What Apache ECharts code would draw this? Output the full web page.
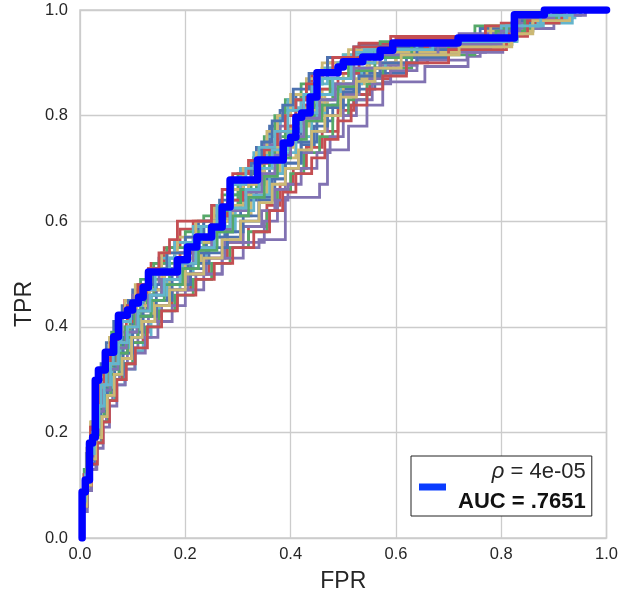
<!DOCTYPE html>
<html>
<head>
<meta charset="utf-8">
<script src="https://cdn.jsdelivr.net/npm/echarts@6/dist/echarts.min.js"></script>
<style>
  html, body { margin: 0; padding: 0; background: #fff; }
  #chart { width: 621px; height: 599px; }
</style>
</head>
<body>
<div id="chart"></div>
<script>
// Tick labels
const xTickLabels = ['0.0', '0.2', '0.4', '0.6', '0.8', '1.0'];
const yTickLabels = ['0.0', '0.2', '0.4', '0.6', '0.8', '1.0'];

// Observed ROC curve: [FPR at end of horizontal run, TPR level]
const observedROC = [[0.004,0],[0.010,0.087],[0.018,0.110],[0.024,0.180],[0.029,0.191],[0.035,0.299],[0.048,0.318],[0.064,0.352],[0.073,0.381],[0.090,0.422],[0.100,0.432],[0.111,0.445],[0.120,0.456],[0.130,0.475],[0.185,0.504],[0.204,0.527],[0.222,0.551],[0.250,0.570],[0.270,0.589],[0.285,0.627],[0.337,0.678],[0.386,0.716],[0.400,0.748],[0.410,0.759],[0.421,0.797],[0.437,0.805],[0.450,0.835],[0.490,0.881],[0.500,0.892],[0.537,0.902],[0.570,0.911],[0.594,0.924],[0.718,0.9375],[0.825,0.947],[0.882,0.991],[1.0,1.0]];

// Permutation ROC curves (same encoding)
const p01 = [[0.004,0],[0.008,0.07],[0.012,0.11],[0.02,0.16],[0.026,0.2],[0.034,0.25],[0.04,0.29],[0.05,0.33],[0.064,0.37],[0.08,0.41],[0.1,0.44],[0.13,0.47],[0.15,0.5],[0.18,0.53],[0.225,0.56],[0.26,0.6],[0.285,0.63],[0.305,0.67],[0.335,0.7],[0.36,0.74],[0.38,0.78],[0.41,0.81],[0.44,0.84],[0.47,0.87],[0.53,0.9],[0.76,0.935],[0.84,0.965],[0.9,0.985],[1,1]];
const p02 = [[0.004,0],[0.01,0.06],[0.016,0.1],[0.024,0.15],[0.032,0.2],[0.04,0.24],[0.05,0.28],[0.062,0.31],[0.078,0.35],[0.095,0.39],[0.115,0.42],[0.14,0.46],[0.17,0.49],[0.2,0.52],[0.235,0.55],[0.265,0.59],[0.3,0.62],[0.325,0.65],[0.35,0.69],[0.38,0.73],[0.41,0.76],[0.44,0.8],[0.48,0.83],[0.52,0.86],[0.58,0.89],[0.78,0.925],[0.85,0.955],[0.92,0.98],[1,1]];
const p03 = [[0.004,0],[0.008,0.08],[0.014,0.12],[0.02,0.17],[0.028,0.21],[0.036,0.26],[0.046,0.3],[0.058,0.34],[0.07,0.38],[0.085,0.42],[0.11,0.45],[0.135,0.48],[0.16,0.52],[0.19,0.55],[0.215,0.585],[0.25,0.6],[0.28,0.63],[0.31,0.66],[0.34,0.7],[0.375,0.735],[0.39,0.77],[0.42,0.8],[0.44,0.84],[0.47,0.88],[0.53,0.91],[0.59,0.937],[0.8,0.95],[0.86,0.975],[0.9,0.99],[1,1]];
const p04 = [[0.006,0],[0.012,0.05],[0.02,0.09],[0.03,0.13],[0.04,0.18],[0.05,0.22],[0.062,0.26],[0.075,0.3],[0.09,0.33],[0.11,0.36],[0.13,0.39],[0.155,0.42],[0.185,0.44],[0.22,0.47],[0.27,0.5],[0.34,0.55],[0.39,0.565],[0.455,0.645],[0.47,0.67],[0.51,0.735],[0.545,0.78],[0.575,0.82],[0.655,0.864],[0.737,0.893],[0.76,0.912],[0.803,0.92],[0.83,0.943],[0.9,0.965],[0.95,0.99],[1,1]];
const p05 = [[0.004,0],[0.01,0.07],[0.018,0.11],[0.026,0.16],[0.034,0.2],[0.044,0.25],[0.054,0.29],[0.068,0.32],[0.085,0.36],[0.1,0.4],[0.125,0.43],[0.155,0.47],[0.185,0.5],[0.215,0.53],[0.25,0.56],[0.28,0.6],[0.31,0.63],[0.345,0.67],[0.37,0.71],[0.4,0.75],[0.43,0.78],[0.46,0.82],[0.5,0.85],[0.55,0.88],[0.62,0.91],[0.77,0.93],[0.84,0.96],[0.9,0.98],[1,1]];
const p06 = [[0.004,0],[0.012,0.06],[0.02,0.1],[0.03,0.15],[0.04,0.19],[0.052,0.23],[0.066,0.26],[0.085,0.29],[0.105,0.32],[0.12,0.355],[0.135,0.38],[0.15,0.41],[0.17,0.44],[0.19,0.47],[0.215,0.5],[0.24,0.53],[0.265,0.57],[0.285,0.61],[0.305,0.65],[0.33,0.69],[0.355,0.72],[0.38,0.76],[0.4,0.8],[0.42,0.815],[0.44,0.83],[0.47,0.86],[0.52,0.89],[0.62,0.92],[0.83,0.945],[0.935,0.975],[1,1]];
const p07 = [[0.006,0],[0.012,0.06],[0.02,0.1],[0.028,0.14],[0.038,0.19],[0.048,0.23],[0.06,0.27],[0.075,0.31],[0.092,0.35],[0.11,0.38],[0.135,0.42],[0.165,0.45],[0.2,0.48],[0.235,0.51],[0.27,0.54],[0.305,0.57],[0.34,0.6],[0.37,0.64],[0.39,0.68],[0.42,0.71],[0.45,0.75],[0.48,0.79],[0.52,0.82],[0.56,0.85],[0.62,0.88],[0.7,0.91],[0.82,0.935],[0.86,0.96],[0.92,0.985],[1,1]];
const p08 = [[0.004,0],[0.008,0.08],[0.014,0.13],[0.022,0.18],[0.03,0.22],[0.038,0.27],[0.05,0.31],[0.06,0.35],[0.075,0.39],[0.092,0.42],[0.115,0.45],[0.14,0.49],[0.165,0.52],[0.2,0.55],[0.235,0.58],[0.27,0.61],[0.3,0.65],[0.33,0.69],[0.35,0.72],[0.37,0.76],[0.39,0.8],[0.42,0.83],[0.46,0.86],[0.5,0.89],[0.57,0.915],[0.75,0.94],[0.83,0.97],[0.88,0.99],[1,1]];
const p09 = [[0.006,0],[0.014,0.06],[0.022,0.1],[0.032,0.15],[0.042,0.19],[0.052,0.23],[0.066,0.27],[0.08,0.3],[0.098,0.34],[0.12,0.37],[0.145,0.41],[0.175,0.44],[0.21,0.47],[0.245,0.5],[0.28,0.53],[0.32,0.56],[0.355,0.59],[0.38,0.63],[0.405,0.67],[0.43,0.7],[0.46,0.74],[0.49,0.77],[0.52,0.81],[0.55,0.84],[0.59,0.87],[0.66,0.9],[0.8,0.925],[0.85,0.95],[0.91,0.975],[1,1]];
const p10 = [[0.004,0],[0.01,0.07],[0.016,0.12],[0.024,0.17],[0.032,0.21],[0.04,0.26],[0.05,0.3],[0.064,0.34],[0.08,0.38],[0.1,0.42],[0.125,0.46],[0.15,0.48],[0.18,0.51],[0.215,0.54],[0.25,0.57],[0.285,0.6],[0.305,0.64],[0.325,0.67],[0.35,0.71],[0.38,0.745],[0.41,0.78],[0.44,0.81],[0.48,0.84],[0.52,0.87],[0.6,0.9],[0.72,0.93],[0.83,0.955],[0.93,0.98],[1,1]];
const p11 = [[0.005,0],[0.012,0.07],[0.02,0.11],[0.03,0.16],[0.04,0.2],[0.05,0.24],[0.062,0.28],[0.078,0.32],[0.095,0.35],[0.115,0.39],[0.14,0.42],[0.17,0.45],[0.2,0.49],[0.23,0.52],[0.26,0.55],[0.29,0.58],[0.325,0.61],[0.355,0.65],[0.38,0.69],[0.41,0.72],[0.44,0.76],[0.47,0.79],[0.5,0.83],[0.54,0.86],[0.6,0.89],[0.8,0.925],[0.84,0.955],[0.9,0.98],[1,1]];
const p12 = [[0.004,0],[0.008,0.06],[0.014,0.11],[0.02,0.15],[0.028,0.2],[0.036,0.25],[0.046,0.29],[0.058,0.33],[0.072,0.37],[0.09,0.41],[0.11,0.44],[0.135,0.47],[0.155,0.51],[0.18,0.53],[0.215,0.56],[0.25,0.59],[0.28,0.63],[0.305,0.66],[0.33,0.7],[0.355,0.73],[0.375,0.76],[0.395,0.8],[0.43,0.83],[0.46,0.86],[0.5,0.89],[0.6,0.915],[0.81,0.94],[0.87,0.97],[0.94,0.985],[1,1]];
const p13 = [[0.004,0],[0.01,0.06],[0.017,0.1],[0.025,0.15],[0.034,0.19],[0.042,0.24],[0.052,0.27],[0.066,0.31],[0.082,0.35],[0.1,0.38],[0.12,0.42],[0.145,0.45],[0.175,0.48],[0.205,0.51],[0.24,0.54],[0.275,0.57],[0.305,0.61],[0.335,0.64],[0.36,0.68],[0.39,0.72],[0.42,0.75],[0.45,0.79],[0.49,0.82],[0.53,0.85],[0.58,0.88],[0.68,0.91],[0.81,0.935],[0.85,0.965],[0.91,0.99],[1,1]];
const p14 = [[0.006,0],[0.014,0.06],[0.022,0.1],[0.032,0.14],[0.042,0.18],[0.054,0.22],[0.068,0.26],[0.084,0.3],[0.1,0.33],[0.125,0.37],[0.15,0.4],[0.18,0.43],[0.215,0.46],[0.25,0.49],[0.285,0.52],[0.32,0.55],[0.355,0.58],[0.375,0.62],[0.4,0.66],[0.425,0.69],[0.455,0.73],[0.48,0.76],[0.51,0.8],[0.545,0.83],[0.575,0.86],[0.63,0.89],[0.75,0.915],[0.82,0.935],[0.86,0.965],[0.93,0.99],[1,1]];
const p15 = [[0.004,0],[0.01,0.07],[0.016,0.12],[0.024,0.16],[0.034,0.21],[0.044,0.25],[0.056,0.29],[0.07,0.33],[0.088,0.37],[0.105,0.41],[0.13,0.44],[0.16,0.47],[0.19,0.5],[0.22,0.54],[0.25,0.57],[0.28,0.61],[0.31,0.64],[0.34,0.68],[0.365,0.71],[0.395,0.74],[0.425,0.78],[0.455,0.82],[0.49,0.85],[0.53,0.88],[0.59,0.91],[0.66,0.93],[0.8,0.945],[0.85,0.97],[0.9,0.99],[1,1]];
const p16 = [[0.005,0],[0.012,0.06],[0.02,0.1],[0.03,0.15],[0.04,0.19],[0.05,0.23],[0.064,0.27],[0.08,0.31],[0.098,0.34],[0.12,0.38],[0.145,0.41],[0.17,0.44],[0.205,0.47],[0.24,0.5],[0.275,0.53],[0.31,0.56],[0.345,0.59],[0.37,0.62],[0.39,0.66],[0.415,0.7],[0.44,0.73],[0.47,0.77],[0.5,0.8],[0.53,0.84],[0.57,0.87],[0.64,0.895],[0.76,0.92],[0.82,0.94],[0.85,0.965],[0.92,0.985],[1,1]];
const p17 = [[0.004,0],[0.008,0.07],[0.013,0.12],[0.02,0.17],[0.028,0.22],[0.036,0.26],[0.046,0.3],[0.056,0.34],[0.07,0.38],[0.086,0.42],[0.105,0.45],[0.13,0.48],[0.155,0.51],[0.185,0.54],[0.22,0.57],[0.255,0.6],[0.285,0.63],[0.31,0.66],[0.335,0.7],[0.355,0.73],[0.375,0.77],[0.4,0.8],[0.43,0.84],[0.46,0.87],[0.51,0.9],[0.62,0.925],[0.78,0.94],[0.84,0.97],[0.9,0.99],[1,1]];
const p18 = [[0.005,0],[0.012,0.06],[0.02,0.1],[0.028,0.15],[0.038,0.2],[0.048,0.24],[0.06,0.28],[0.076,0.32],[0.094,0.36],[0.112,0.39],[0.136,0.43],[0.165,0.46],[0.195,0.49],[0.225,0.52],[0.26,0.55],[0.295,0.58],[0.33,0.62],[0.36,0.65],[0.385,0.69],[0.41,0.73],[0.44,0.76],[0.465,0.8],[0.495,0.83],[0.535,0.86],[0.58,0.89],[0.7,0.92],[0.83,0.94],[0.88,0.97],[0.95,0.99],[1,1]];
const p19 = [[0.004,0],[0.008,0.08],[0.015,0.12],[0.022,0.17],[0.03,0.21],[0.038,0.26],[0.048,0.3],[0.06,0.34],[0.074,0.38],[0.092,0.42],[0.112,0.45],[0.14,0.48],[0.165,0.51],[0.2,0.54],[0.235,0.57],[0.265,0.6],[0.29,0.64],[0.325,0.68],[0.345,0.71],[0.365,0.75],[0.385,0.79],[0.405,0.82],[0.435,0.85],[0.47,0.88],[0.52,0.91],[0.65,0.93],[0.82,0.945],[0.86,0.975],[0.91,0.99],[1,1]];
const p20 = [[0.004,0],[0.01,0.06],[0.018,0.11],[0.026,0.15],[0.034,0.2],[0.044,0.24],[0.055,0.28],[0.07,0.32],[0.086,0.36],[0.104,0.4],[0.128,0.43],[0.155,0.46],[0.185,0.49],[0.215,0.52],[0.245,0.56],[0.275,0.59],[0.305,0.62],[0.335,0.66],[0.36,0.7],[0.39,0.73],[0.415,0.77],[0.445,0.8],[0.475,0.84],[0.51,0.87],[0.56,0.9],[0.7,0.925],[0.8,0.94],[0.84,0.965],[0.89,0.985],[1,1]];
const p21 = [[0.004,0],[0.008,0.07],[0.014,0.12],[0.02,0.16],[0.028,0.21],[0.036,0.25],[0.046,0.29],[0.058,0.33],[0.072,0.37],[0.09,0.41],[0.11,0.44],[0.13,0.48],[0.15,0.51],[0.17,0.54],[0.185,0.565],[0.25,0.6],[0.27,0.63],[0.29,0.66],[0.32,0.69],[0.35,0.715],[0.375,0.735],[0.39,0.77],[0.41,0.8],[0.43,0.83],[0.45,0.86],[0.48,0.885],[0.52,0.91],[0.6,0.93],[0.77,0.946],[0.83,0.97],[0.89,0.99],[1,1]];
const p22 = [[0.006,0],[0.014,0.05],[0.022,0.09],[0.032,0.13],[0.044,0.17],[0.056,0.21],[0.07,0.25],[0.086,0.29],[0.104,0.32],[0.124,0.35],[0.148,0.38],[0.175,0.41],[0.2,0.44],[0.235,0.47],[0.27,0.5],[0.31,0.53],[0.35,0.56],[0.375,0.6],[0.395,0.64],[0.42,0.67],[0.45,0.7],[0.475,0.73],[0.5,0.76],[0.525,0.8],[0.555,0.83],[0.59,0.86],[0.64,0.885],[0.735,0.905],[0.77,0.92],[0.805,0.935],[0.84,0.96],[0.9,0.98],[0.96,0.99],[1,1]];
const p23 = [[0.004,0],[0.011,0.07],[0.018,0.11],[0.026,0.16],[0.035,0.2],[0.045,0.25],[0.057,0.29],[0.072,0.33],[0.09,0.37],[0.108,0.4],[0.132,0.44],[0.16,0.47],[0.19,0.5],[0.225,0.53],[0.255,0.56],[0.29,0.6],[0.32,0.63],[0.35,0.67],[0.375,0.7],[0.405,0.74],[0.435,0.78],[0.465,0.81],[0.5,0.84],[0.545,0.87],[0.6,0.9],[0.72,0.92],[0.82,0.935],[0.86,0.96],[0.92,0.985],[1,1]];
const p24 = [[0.004,0],[0.009,0.07],[0.016,0.11],[0.024,0.16],[0.032,0.2],[0.04,0.25],[0.05,0.29],[0.063,0.33],[0.078,0.37],[0.096,0.41],[0.118,0.44],[0.143,0.47],[0.17,0.5],[0.2,0.53],[0.23,0.56],[0.26,0.59],[0.29,0.63],[0.315,0.67],[0.34,0.7],[0.37,0.74],[0.395,0.77],[0.425,0.81],[0.455,0.84],[0.49,0.87],[0.54,0.9],[0.64,0.925],[0.8,0.94],[0.87,0.97],[0.935,0.985],[1,1]];
const p25 = [[0.005,0],[0.012,0.07],[0.02,0.12],[0.03,0.16],[0.04,0.2],[0.052,0.24],[0.066,0.28],[0.082,0.31],[0.1,0.35],[0.12,0.39],[0.145,0.42],[0.175,0.45],[0.21,0.48],[0.245,0.52],[0.28,0.55],[0.31,0.58],[0.34,0.61],[0.365,0.645],[0.39,0.68],[0.42,0.71],[0.445,0.745],[0.47,0.78],[0.5,0.815],[0.53,0.845],[0.57,0.875],[0.64,0.9],[0.78,0.925],[0.83,0.95],[0.89,0.98],[1,1]];
const p26 = [[0.004,0],[0.011,0.06],[0.018,0.1],[0.027,0.15],[0.036,0.19],[0.046,0.23],[0.058,0.27],[0.074,0.31],[0.09,0.35],[0.11,0.38],[0.135,0.42],[0.16,0.45],[0.195,0.48],[0.225,0.51],[0.26,0.545],[0.29,0.58],[0.32,0.61],[0.35,0.645],[0.375,0.685],[0.4,0.72],[0.43,0.755],[0.46,0.79],[0.49,0.82],[0.52,0.855],[0.56,0.885],[0.63,0.91],[0.79,0.935],[0.845,0.96],[0.905,0.985],[1,1]];
const p27 = [[0.006,0],[0.013,0.06],[0.022,0.1],[0.033,0.14],[0.044,0.18],[0.056,0.22],[0.07,0.26],[0.088,0.3],[0.105,0.33],[0.128,0.36],[0.155,0.4],[0.185,0.43],[0.22,0.46],[0.255,0.49],[0.29,0.52],[0.33,0.55],[0.36,0.58],[0.385,0.62],[0.41,0.655],[0.44,0.69],[0.465,0.72],[0.49,0.755],[0.515,0.79],[0.545,0.82],[0.575,0.85],[0.62,0.875],[0.7,0.9],[0.81,0.925],[0.85,0.955],[0.915,0.98],[1,1]];
const p28 = [[0.005,0],[0.01,0.07],[0.017,0.11],[0.026,0.15],[0.035,0.2],[0.045,0.24],[0.057,0.28],[0.072,0.32],[0.088,0.36],[0.108,0.39],[0.13,0.43],[0.155,0.46],[0.185,0.49],[0.215,0.52],[0.25,0.55],[0.285,0.585],[0.315,0.62],[0.345,0.655],[0.37,0.69],[0.4,0.725],[0.425,0.76],[0.455,0.795],[0.485,0.83],[0.52,0.86],[0.57,0.89],[0.68,0.915],[0.8,0.935],[0.835,0.96],[0.9,0.985],[1,1]];
const p29 = [[0.005,0],[0.013,0.06],[0.021,0.1],[0.03,0.15],[0.041,0.19],[0.052,0.23],[0.065,0.27],[0.08,0.31],[0.098,0.34],[0.118,0.38],[0.142,0.41],[0.17,0.44],[0.2,0.47],[0.235,0.5],[0.27,0.53],[0.305,0.565],[0.34,0.6],[0.365,0.635],[0.39,0.67],[0.415,0.7],[0.44,0.735],[0.465,0.77],[0.495,0.8],[0.525,0.835],[0.56,0.865],[0.61,0.89],[0.72,0.915],[0.82,0.93],[0.86,0.955],[0.93,0.98],[1,1]];
const p30 = [[0.004,0],[0.01,0.07],[0.018,0.12],[0.027,0.16],[0.036,0.21],[0.046,0.25],[0.058,0.29],[0.073,0.33],[0.09,0.37],[0.11,0.4],[0.133,0.43],[0.16,0.46],[0.19,0.49],[0.22,0.52],[0.255,0.55],[0.285,0.59],[0.315,0.625],[0.34,0.66],[0.365,0.7],[0.395,0.735],[0.42,0.77],[0.45,0.805],[0.48,0.84],[0.515,0.87],[0.56,0.9],[0.67,0.925],[0.81,0.94],[0.875,0.97],[0.93,0.99],[1,1]];

const permCurves = [p01,p02,p03,p04,p05,p06,p07,p08,p09,p10,p11,p12,p13,p14,p15,p16,p17,p18,p19,p20,p21,p22,p23,p24,p25,p26,p27,p28,p29,p30];
const permColors = ['#4C72B0', '#55A868', '#C44E52', '#8172B2', '#CCB974', '#64B5CD'];

const legendRho = '4e-05';
const legendAUC = '.7651';

const FONT = '"Liberation Sans", Arial, Helvetica, sans-serif';
const chart = echarts.init(document.getElementById('chart'), null, { renderer: 'canvas' });

const series = permCurves.map((c, i) => ({
  type: 'line',
  name: 'perm' + (i + 1),
  data: c,
  step: 'start',
  symbol: 'none',
  silent: true,
  z: 2,
  lineStyle: { width: 2.8, color: permColors[i % permColors.length], join: 'miter' },
  animation: false
}));
series.push({
  type: 'line',
  name: 'observed',
  data: observedROC,
  step: 'start',
  symbol: 'none',
  silent: true,
  z: 5,
  lineStyle: { width: 7.5, color: '#0000ff', join: 'round', cap: 'round' },
  animation: false
});

chart.setOption({
  animation: false,
  backgroundColor: '#ffffff',
  grid: { left: 80, right: 14, top: 10, bottom: 61, show: true, borderColor: '#cccccc', borderWidth: 1.5, backgroundColor: '#ffffff' },
  xAxis: {
    type: 'value', min: 0, max: 1, interval: 0.2,
    name: 'FPR', nameLocation: 'middle', nameGap: 32,
    nameTextStyle: { fontFamily: FONT, fontSize: 23, color: '#262626' },
    axisLine: { show: false }, axisTick: { show: false },
    axisLabel: { margin: 8, fontFamily: FONT, fontSize: 16.5, color: '#262626',
      formatter: (v) => xTickLabels[Math.round(v / 0.2)] },
    splitLine: { show: true, lineStyle: { color: '#cccccc', width: 1.3 } }
  },
  yAxis: {
    type: 'value', min: 0, max: 1, interval: 0.2,
    axisLine: { show: false }, axisTick: { show: false },
    axisLabel: { margin: 12, fontFamily: FONT, fontSize: 16.5, color: '#262626',
      formatter: (v) => yTickLabels[Math.round(v / 0.2)] },
    splitLine: { show: true, lineStyle: { color: '#cccccc', width: 1.3 } }
  },
  legend: {
    data: [{ name: 'observed', icon: 'rect', itemStyle: { color: '#0a3cff' } }],
    left: 411, top: 456,
    orient: 'vertical',
    backgroundColor: '#ffffff', borderColor: '#222222', borderWidth: 1, borderRadius: 0,
    padding: [5, 6, 3, 8],
    itemWidth: 27, itemHeight: 7,
    selectedMode: false,
    formatter: () => '{i|ρ}{r| = ' + legendRho + '}\n{b|AUC = ' + legendAUC + '}',
    textStyle: {
      fontFamily: FONT, fontSize: 22, color: '#262626',
      rich: {
        i: { fontFamily: FONT, fontSize: 22, fontStyle: 'italic', color: '#262626', lineHeight: 30, align: 'right' },
        r: { fontFamily: FONT, fontSize: 22, color: '#262626', lineHeight: 30, align: 'right' },
        b: { fontFamily: FONT, fontSize: 22, fontWeight: 'bold', color: '#111111', lineHeight: 30, align: 'right', padding: [0, 0, 0, 7] }
      }
    }
  },
  graphic: [{
    type: 'text', x: 25, y: 304, rotation: Math.PI / 2,
    style: { text: 'TPR', font: '23px ' + FONT, fill: '#262626', textAlign: 'center', textVerticalAlign: 'middle' }
  }],
  series: series
});
</script>
</body>
</html>
